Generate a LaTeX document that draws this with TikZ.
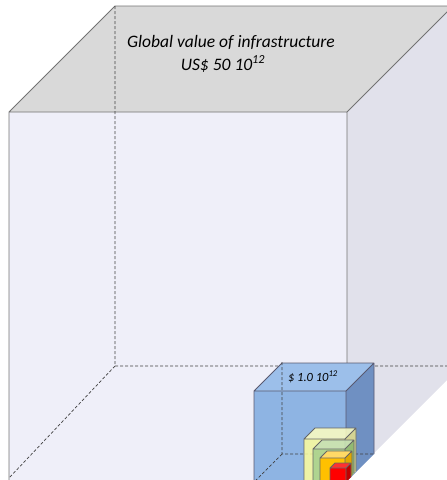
\documentclass[tikz,border=0pt]{standalone}
\usepackage{fontspec}
\setmainfont{Carlito}

\definecolor{bigfront}{HTML}{EFEFF9}
\definecolor{bigtop}{HTML}{D9D9D9}
\definecolor{bigside}{HTML}{E1E1EB}
\definecolor{blufront}{HTML}{8EB4E3}
\definecolor{blutop}{HTML}{9CBFEA}
\definecolor{bluside}{HTML}{6F90C2}
\definecolor{yelfront}{HTML}{FFFF9C}
\definecolor{yeltop}{HTML}{FFFFC0}
\definecolor{yelside}{HTML}{E6E08C}
\definecolor{grnfront}{HTML}{A9D18E}
\definecolor{grntop}{HTML}{C5E0B4}
\definecolor{grnside}{HTML}{8DB870}
\definecolor{orgfront}{HTML}{FFC000}
\definecolor{orgtop}{HTML}{FFD966}
\definecolor{orgside}{HTML}{E0A800}
\definecolor{redfront}{HTML}{FF0000}
\definecolor{redtop}{HTML}{FF3030}
\definecolor{redside}{HTML}{C00000}

% box: x left, y top, x right, depth, front, top, side, line
\newcommand{\drawbox}[8]{%
  \fill[#5] (#1,#2) rectangle (#3,482);
  \fill[#6] (#1,#2) -- ++(#4,-#4) -- ({#3+#4},{#2-#4}) -- (#3,#2) -- cycle;
  \fill[#7] (#3,#2) -- ({#3+#4},{#2-#4}) -- ({#3+#4},{482-#4}) -- (#3,482) -- cycle;
  \draw[#8] (#1,482) -- (#1,#2) -- (#3,#2) -- (#3,482)
    (#1,#2) -- ++(#4,-#4) -- ({#3+#4},{#2-#4}) -- ({#3+#4},{482-#4})
    (#3,#2) -- ({#3+#4},{#2-#4});
}

\begin{document}
\begin{tikzpicture}[x=1pt,y=-1pt,
  edge/.style={draw=#1, line width=0.8pt, line join=round},
  hidden/.style={draw=black!75, line width=0.7pt, dash pattern=on 3pt off 2pt},
  label/.style={inner sep=0pt, font=\itshape\fontsize{#1}{#1}\selectfont}]

\def\W{447}
\def\H{480}

\path [use as bounding box] (0,0) rectangle (\W,\H);
\clip (0,0) rectangle (\W,\H);

% BIG BOX
\fill [bigfront] (9,112) rectangle (347,482);
\fill [bigtop] (9,112) -- (115,6) -- (453,6) -- (347,112) -- cycle;
\fill [bigside] (347,112) -- (453,6) -- (453,374) -- (347,480) -- cycle;
\draw [edge=black!55] (9,482) -- (9,112) -- (347,112) -- (347,482)
  (9,112) -- (115,6) -- (453,6) (347,112) -- (453,6);
\draw [hidden] (115,6) -- (115,366) -- (453,366) (115,366) -- (9,478);

% TEXT
\node [label=17.5] (title) at (231,42) {Global value of infrastructure};
\node [label=17.5] (total) at (223,64) {US\$ 50 10\textsuperscript{12}};

% BLUE BOX
\drawbox{254}{391}{346}{28}{blufront}{blutop}{bluside}{edge=black!70!blue!30!gray}
\draw [hidden] (282,362) -- (282,454) -- (374,454) (282,454) -- (254,482);
\node [label=12.5] (blue) at (313,377) {\$ 1.0 10\textsuperscript{12}};

% SMALL BOXES
\drawbox{304}{439}{345}{11}{yelfront, fill opacity=0.85}{yeltop, fill opacity=0.85}{yelside, fill opacity=0.85}{edge=black!60}
\drawbox{313}{449}{345}{9}{grnfront, fill opacity=0.9}{grntop, fill opacity=0.9}{grnside, fill opacity=0.9}{edge=black!60}
\drawbox{320}{458}{345}{7}{orgfront}{orgtop}{orgside}{edge=black!60}
\drawbox{330}{468}{346}{5}{redfront}{redtop}{redside}{edge=black!60}

\end{tikzpicture}
\end{document}
